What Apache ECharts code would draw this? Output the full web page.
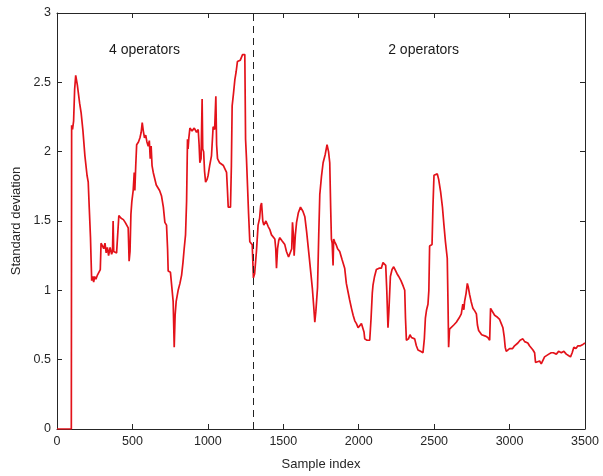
<!DOCTYPE html>
<html>
<head>
<meta charset="utf-8">
<script src="https://cdn.jsdelivr.net/npm/echarts@6/dist/echarts.min.js"></script>
<style>html,body{margin:0;padding:0;background:#fff;}#c{width:603px;height:476px;}</style>
</head>
<body>
<div id="c"></div>
<script>
const sampleIndex = [0,95,97,103,110,117,124,135,150,160,172,185,199,207,214,222,226,230,238,243,250,258,268,280,287,292,300,310,318,326,334,342,352,362,368,372,376,386,395,404,410,425,440,452,462,472,478,484,490,496,505,512,516,522,528,540,550,558,565,572,580,588,596,605,612,618,624,630,638,648,658,669,680,693,705,715,726,733,737,752,762,770,777,783,790,803,815,826,835,843,852,859,865,869,874,881,895,910,925,936,942,947,955,962,966,972,978,985,995,1002,1012,1024,1035,1045,1053,1058,1064,1078,1091,1103,1113,1124,1130,1135,1150,1156,1161,1170,1179,1188,1196,1215,1230,1245,1250,1256,1263,1270,1278,1294,1302,1310,1322,1333,1343,1350,1356,1364,1371,1385,1400,1410,1422,1435,1444,1450,1455,1462,1470,1477,1490,1499,1510,1521,1535,1548,1556,1561,1567,1572,1580,1588,1600,1614,1630,1643,1655,1671,1683,1693,1702,1709,1716,1727,1735,1742,1753,1764,1778,1790,1800,1808,1814,1819,1824,1830,1834,1841,1850,1860,1874,1890,1907,1918,1929,1940,1952,1963,1974,1985,1996,2007,2018,2029,2035,2040,2055,2073,2082,2090,2095,2105,2117,2135,2150,2161,2172,2179,2186,2194,2200,2210,2221,2232,2243,2254,2265,2280,2295,2305,2310,2316,2330,2340,2349,2360,2371,2382,2393,2410,2426,2435,2442,2450,2459,2465,2470,2486,2492,2499,2510,2521,2530,2543,2555,2565,2575,2587,2592,2596,2602,2614,2630,2647,2665,2680,2690,2697,2702,2712,2720,2727,2735,2745,2757,2770,2780,2787,2795,2805,2815,2823,2840,2856,2868,2874,2885,2901,2915,2934,2945,2956,2965,2971,2978,2990,3000,3011,3020,3033,3045,3055,3070,3088,3100,3121,3132,3143,3155,3166,3172,3185,3199,3210,3221,3232,3243,3260,3276,3290,3310,3325,3343,3360,3376,3390,3404,3415,3426,3440,3453,3470,3486,3500];
const stdDev = [0,0,2.19,2.16,2.22,2.45,2.55,2.48,2.35,2.28,2.15,1.97,1.83,1.78,1.59,1.38,1.22,1.07,1.10,1.06,1.10,1.08,1.11,1.12,1.15,1.34,1.33,1.30,1.34,1.27,1.31,1.25,1.31,1.26,1.28,1.50,1.28,1.29,1.27,1.28,1.54,1.52,1.51,1.49,1.48,1.45,1.21,1.28,1.55,1.64,1.72,1.85,1.72,1.90,2.05,2.07,2.10,2.14,2.21,2.15,2.10,2.12,2.07,2.04,2.08,1.95,2.04,1.90,1.85,1.84,1.76,1.75,1.72,1.68,1.60,1.49,1.47,1.30,1.14,1.13,1.12,0.92,0.59,0.82,0.92,1.00,1.05,1.11,1.20,1.30,1.40,1.64,2.09,2.02,2.10,2.17,2.15,2.17,2.14,2.16,2.05,1.92,1.95,2.38,2.02,2.00,1.86,1.78,1.80,1.83,1.90,1.97,2.18,2.16,2.40,2.05,1.95,1.92,1.91,1.90,1.90,1.85,1.72,1.60,1.60,1.90,2.33,2.42,2.52,2.58,2.65,2.66,2.70,2.70,2.09,1.95,1.75,1.55,1.35,1.33,1.09,1.12,1.28,1.47,1.52,1.61,1.63,1.50,1.47,1.50,1.46,1.44,1.40,1.40,1.37,1.30,1.16,1.30,1.36,1.38,1.36,1.36,1.33,1.28,1.24,1.23,1.30,1.49,1.40,1.25,1.40,1.49,1.56,1.60,1.57,1.53,1.42,1.25,1.12,1.01,0.88,0.77,0.85,1.02,1.40,1.69,1.82,1.92,1.98,2.05,2.00,1.92,1.60,1.37,1.34,1.18,1.37,1.35,1.33,1.30,1.28,1.22,1.16,1.05,0.99,0.93,0.87,0.82,0.78,0.76,0.73,0.73,0.76,0.77,0.70,0.65,0.64,0.64,0.80,0.98,1.04,1.10,1.15,1.16,1.16,1.20,1.19,1.18,1.00,0.73,0.85,1.10,1.15,1.17,1.16,1.12,1.10,1.07,1.03,1.00,0.80,0.64,0.65,0.68,0.66,0.65,0.65,0.60,0.57,0.56,0.55,0.65,0.80,0.86,0.90,1.00,1.32,1.33,1.60,1.83,1.84,1.84,1.80,1.71,1.60,1.47,1.35,1.23,0.90,0.59,0.72,0.73,0.75,0.77,0.80,0.83,0.90,0.86,0.92,0.98,1.05,1.02,0.97,0.92,0.87,0.85,0.83,0.75,0.71,0.72,0.68,0.68,0.67,0.66,0.64,0.87,0.86,0.82,0.81,0.79,0.76,0.73,0.66,0.59,0.56,0.57,0.58,0.59,0.58,0.60,0.60,0.62,0.64,0.65,0.63,0.62,0.60,0.59,0.57,0.55,0.48,0.49,0.49,0.47,0.48,0.52,0.53,0.54,0.55,0.55,0.54,0.56,0.55,0.56,0.54,0.53,0.52,0.55,0.59,0.58,0.60,0.60,0.61,0.62];
const xTicks = [0,500,1000,1500,2000,2500,3000,3500];
const yTicks = [0,0.5,1,1.5,2,2.5,3];
const splitIndex = 1300;
const annotations = ['4 operators','2 operators'];
const annotationX = [580, 2430];
const annotationY = 2.73;

const chart = echarts.init(document.getElementById('c'), null, {renderer:'canvas'});
const font = 'Liberation Sans, Arial, Helvetica, sans-serif';
const txt = '#262626';
const axisCommon = () => ({
  axisLine:{show:true, onZero:false, lineStyle:{color:txt, width:1}},
  axisTick:{show:true, inside:true, length:5, lineStyle:{color:txt}},
  splitLine:{show:false}
});
const pts = sampleIndex.map((x,i)=>[x, stdDev[i]]);
chart.setOption({
  animation:false,
  backgroundColor:'#fff',
  grid:{left:57, right:18, top:13, bottom:44, containLabel:false},
  xAxis:[
    Object.assign({type:'value', min:xTicks[0], max:xTicks[xTicks.length-1], interval:500, position:'bottom',
      name:'Sample index', nameLocation:'middle', nameGap:29,
      nameTextStyle:{color:txt, fontSize:13, fontFamily:font},
      axisLabel:{color:txt, fontSize:12.5, fontFamily:font, margin:6, formatter:v=>String(v)}}, axisCommon()),
    Object.assign({type:'value', min:0, max:3500, interval:500, position:'top', axisLabel:{show:false}}, axisCommon())
  ],
  yAxis:[
    Object.assign({type:'value', min:yTicks[0], max:yTicks[yTicks.length-1], interval:0.5, position:'left',
      name:'Standard deviation', nameLocation:'middle', nameGap:28,
      nameTextStyle:{color:txt, fontSize:13, fontFamily:font},
      axisLabel:{color:txt, fontSize:12.5, fontFamily:font, margin:6, formatter:v=>String(v)}}, axisCommon()),
    Object.assign({type:'value', min:0, max:3, interval:0.5, position:'right', axisLabel:{show:false}}, axisCommon())
  ],
  series:[
    {type:'line', data:pts, xAxisIndex:0, yAxisIndex:0, showSymbol:false, symbol:'none',
     lineStyle:{color:'#e3121a', width:1.7}, z:3,
     markLine:{silent:true, symbol:['none','none'], label:{show:false},
       lineStyle:{color:'#222', type:[7,5], width:1},
       data:[[{coord:[splitIndex,0]},{coord:[splitIndex,3]}]]}},
    {type:'scatter', data:annotationX.map((x,i)=>[x, annotationY, annotations[i]]), symbolSize:0,
     itemStyle:{opacity:1},
     label:{show:true, formatter:p=>p.value[2], position:'inside', color:'#1a1a1a', fontSize:14, fontFamily:font}, z:4}
  ]
});
</script>
</body>
</html>
